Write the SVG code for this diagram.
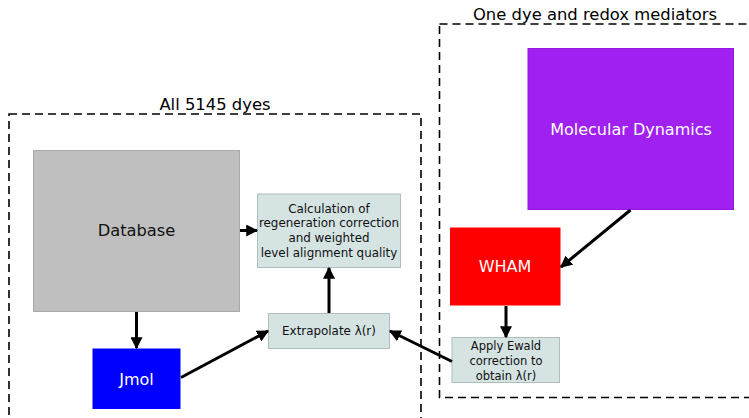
<svg xmlns="http://www.w3.org/2000/svg" width="749" height="418" viewBox="0 0 749 418">
<defs>
<marker id="ah" markerWidth="4" markerHeight="4" refX="3.6" refY="2" orient="auto" markerUnits="strokeWidth">
<path d="M0,0 L4,2 L0,4 Z" fill="#000"/>
</marker>
<style>
text{font-family:"DejaVu Sans","Liberation Sans",sans-serif;text-anchor:middle}
.grp{fill:none;stroke:#000;stroke-width:1.6;stroke-dasharray:8,5}
.title{font-size:16.4px;fill:#000}
.pale{fill:#d5e3e3;stroke:#aebebe;stroke-width:1}
.small{font-size:11.9px;fill:#111}
.ew{font-size:11.5px;fill:#111}
.big{font-size:16px;fill:#fff}
.conn line{stroke:#000;stroke-width:3;marker-end:url(#ah)}
</style>
</defs>
<rect width="749" height="418" fill="#fff"/>
<g id="group-all">
<rect class="grp" x="9" y="114" width="412" height="330"/>
<text class="title" x="215" y="110">All 5145 dyes</text>
</g>
<g id="group-one">
<rect class="grp" x="439.5" y="24" width="340" height="373.5"/>
<text class="title" x="595" y="20">One dye and redox mediators</text>
</g>
<g id="database">
<rect x="33.5" y="150.5" width="206" height="161" fill="#bfbfbf" stroke="#aaaaaa" stroke-width="1"/>
<text x="136.5" y="236" font-size="16.3" fill="#111">Database</text>
</g>
<g id="calc">
<rect class="pale" x="257.5" y="194" width="143" height="73.5"/>
<text class="small" x="329" y="212.5">Calculation of</text>
<text class="small" x="329" y="227.3">regeneration correction</text>
<text class="small" x="329" y="242">and weighted</text>
<text class="small" x="329" y="256.8">level alignment quality</text>
</g>
<g id="extrapolate">
<rect class="pale" x="268.5" y="313.5" width="121" height="35"/>
<text class="small" x="329" y="335">Extrapolate λ(r)</text>
</g>
<g id="jmol">
<rect x="92.5" y="348.5" width="88" height="60.5" fill="#0000ff"/>
<text class="big" x="136.5" y="385">Jmol</text>
</g>
<g id="md">
<rect x="528" y="48.5" width="205.5" height="161" fill="#a020f0" stroke="#9418e0" stroke-width="1"/>
<text class="big" x="631" y="135">Molecular Dynamics</text>
</g>
<g id="wham">
<rect x="450" y="227.5" width="110.5" height="78" fill="#ff0000"/>
<text class="big" x="505" y="272">WHAM</text>
</g>
<g id="ewald">
<rect class="pale" x="452" y="337.5" width="107.5" height="45"/>
<text class="ew" x="506" y="349.5">Apply Ewald</text>
<text class="ew" x="506" y="364.5">correction to</text>
<text class="ew" x="506" y="379.5">obtain λ(r)</text>
</g>
<g id="connectors" class="conn">
<line x1="240" y1="230.5" x2="257" y2="230.5"/>
<line x1="136.5" y1="312" x2="136.5" y2="348"/>
<line x1="181" y1="377.5" x2="268" y2="331"/>
<line x1="329" y1="313" x2="329" y2="268"/>
<line x1="452" y1="361.5" x2="390" y2="331"/>
<line x1="630.5" y1="210" x2="561" y2="267"/>
<line x1="506" y1="306" x2="506" y2="337"/>
</g>
</svg>
